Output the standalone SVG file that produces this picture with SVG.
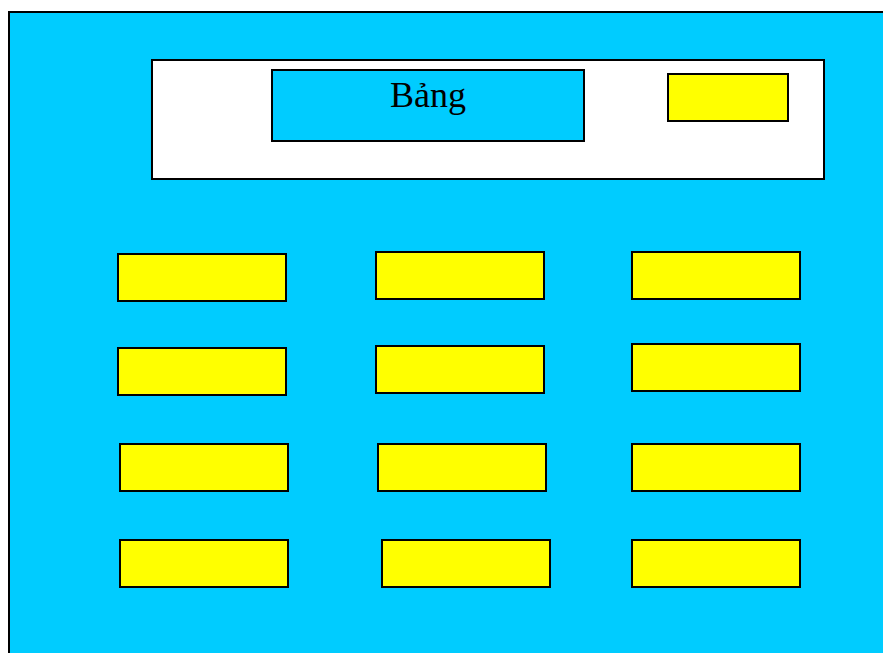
<svg xmlns="http://www.w3.org/2000/svg" width="883" height="653" viewBox="0 0 883 653">
<style>
.desk{fill:#ffff00;stroke:#000;stroke-width:2}
.blue{fill:#00ccff;stroke:#000;stroke-width:2}
.board{fill:#fff;stroke:#000;stroke-width:2}
.lbl{font-family:"Liberation Serif","Times New Roman",serif;font-size:36px;fill:#000}
</style>
<rect width="883" height="653" fill="#fff"/>
<rect id="room" class="blue" x="9" y="12" width="890" height="660"/>
<g id="board-area">
<rect class="board" x="152" y="60" width="672" height="119"/>
</g>
<g id="board">
<rect class="blue" x="272" y="70" width="312" height="71"/>
<text class="lbl" x="428" y="107" text-anchor="middle">Bảng</text>
</g>
<g id="teacher-desk"><rect class="desk" x="668" y="74" width="120" height="47"/></g>
<g id="desks">
<g id="d1"><rect class="desk" x="118" y="254" width="168" height="47"/></g>
<g id="d2"><rect class="desk" x="376" y="252" width="168" height="47"/></g>
<g id="d3"><rect class="desk" x="632" y="252" width="168" height="47"/></g>
<g id="d4"><rect class="desk" x="118" y="348" width="168" height="47"/></g>
<g id="d5"><rect class="desk" x="376" y="346" width="168" height="47"/></g>
<g id="d6"><rect class="desk" x="632" y="344" width="168" height="47"/></g>
<g id="d7"><rect class="desk" x="120" y="444" width="168" height="47"/></g>
<g id="d8"><rect class="desk" x="378" y="444" width="168" height="47"/></g>
<g id="d9"><rect class="desk" x="632" y="444" width="168" height="47"/></g>
<g id="d10"><rect class="desk" x="120" y="540" width="168" height="47"/></g>
<g id="d11"><rect class="desk" x="382" y="540" width="168" height="47"/></g>
<g id="d12"><rect class="desk" x="632" y="540" width="168" height="47"/></g>
</g>
<g id="connectors"/>
</svg>
